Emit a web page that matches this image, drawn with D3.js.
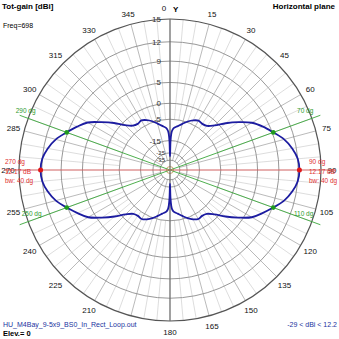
<!DOCTYPE html>
<html>
<head>
<meta charset="utf-8">
<script src="https://cdn.jsdelivr.net/npm/d3@7"></script>
<style>
  html, body { margin: 0; padding: 0; background: #fff; }
  svg { display: block; font-family: "Liberation Sans", Arial, sans-serif; }
</style>
</head>
<body>
<svg id="chart" width="339" height="339"></svg>
<script>
// Azimuth (deg, compass: 0 = Y axis, clockwise) and total gain (dBi), horizontal plane
const azimuth = [
  0, 1, 2, 3, 5, 10, 15, 20, 25, 30, 35, 40, 45, 50, 55, 60, 65, 70, 75, 80, 85,
  90, 95, 100, 105, 110, 115, 120, 125, 130, 135, 140, 145, 150, 155, 160, 165, 170, 175, 177, 178, 179,
  180, 181, 182, 183, 185, 190, 195, 200, 205, 210, 215, 220, 225, 230, 235, 240, 245, 250, 255, 260, 265,
  270, 275, 280, 285, 290, 295, 300, 305, 310, 315, 320, 325, 330, 335, 340, 345, 350, 355, 357, 358, 359
];
const gain = [
  -29, -15.5, -11.2, -9.7, -8.5, -7.4, -6.1, -4.7, -3.6, -2.9, -3.1, -2.7, -1.0, 1.6, 4.1, 6.4, 7.9, 9.17, 10.5, 11.4, 12.0,
  12.17, 12.0, 11.4, 10.5, 9.17, 7.8, 6.4, 4.0, 1.5, -1.1, -2.8, -3.2, -3.0, -3.7, -4.8, -6.2, -7.5, -8.6, -9.8, -11.4, -15.8,
  -29, -15.8, -11.4, -9.8, -8.6, -7.5, -6.2, -4.8, -3.7, -3.0, -3.2, -2.8, -1.1, 1.5, 4.0, 6.4, 7.8, 9.17, 10.5, 11.4, 12.0,
  12.17, 12.0, 11.4, 10.5, 9.17, 7.9, 6.5, 4.1, 1.7, -0.9, -2.6, -3.1, -2.8, -3.5, -4.6, -6.0, -7.3, -8.5, -9.7, -11.2, -15.5
];

// Gain rings (dBi) and their labels
const ringValues = [15, 12, 9, 5, 0, -5, -15, -25, -35];
const ringLabels = ["15", "12", "9", "5", "0", "-5", "-15", "-25", "-35"];

// Compass labels around the outer ring (195 sits under the file-name footer)
const angleTicks = d3.range(0, 360, 15);
const hiddenTicks = [195];

// Maximum-gain and half-power (-3 dB) markers
const maxAz = [90, 270];
const maxGain = 12.17;
const beamwidth = 40;
const halfPowerAz = [70, 110, 250, 290];
const halfPowerGain = 9.17;
const gainMin = -29;

const svg = d3.select("#chart");
const cx = 170, cy = 170, R = 151;
const g = svg.append("g").attr("transform", `translate(${cx},${cy})`);

// Log-type radial scale: outer ring = 15 dBi, exponential compression inward
const K = 0.0545;
const logR = d3.scaleLinear().domain([-35, 15]).range([Math.log(R) - K * 50, Math.log(R)]);
const r = v => Math.exp(logR(v));
const rad = d => d * Math.PI / 180;
const px = (az, rr) => rr * Math.sin(rad(az));
const py = (az, rr) => -rr * Math.cos(rad(az));

// Radial spokes: fine every 5 deg, stronger every 15 deg
const fine = d3.range(0, 360, 5).filter(a => a % 15 !== 0);
g.selectAll("line.fine").data(fine).join("line")
  .attr("x1", a => px(a, r(-5))).attr("y1", a => py(a, r(-5)))
  .attr("x2", a => px(a, R)).attr("y2", a => py(a, R))
  .attr("stroke", "#d4d4d4").attr("stroke-width", 0.8);
const major = angleTicks.filter(a => a % 90 !== 0);
g.selectAll("line.major").data(major).join("line")
  .attr("x1", a => px(a, r(-35))).attr("y1", a => py(a, r(-35)))
  .attr("x2", a => px(a, R)).attr("y2", a => py(a, R))
  .attr("stroke", "#a8a8a8").attr("stroke-width", 0.8);

// Gain rings
g.selectAll("circle.ring").data(ringValues).join("circle")
  .attr("r", d => r(d)).attr("fill", "none")
  .attr("stroke", (d, i) => i === 0 ? "#555" : "#8c8c8c")
  .attr("stroke-width", (d, i) => i === 0 ? 1.2 : 0.9);

// Small centre ring
g.append("circle").attr("r", 3.5).attr("fill", "none").attr("stroke", "#c9a36a").attr("stroke-width", 1);

// Y axis through 0/180
g.append("line").attr("x1", 0).attr("y1", -R).attr("x2", 0).attr("y2", R)
  .attr("stroke", "#6e6e6e").attr("stroke-width", 1.3);

// Ring labels along the Y axis (innermost ones smaller, the rings crowd there)
g.selectAll("text.ring").data(ringValues).join("text")
  .attr("x", (d, i) => i >= 7 ? -5 : -9)
  .attr("y", (d, i) => -r(d) + (i >= 7 ? 2 : 3))
  .attr("text-anchor", "end")
  .attr("font-size", (d, i) => i >= 7 ? 6 : 8).attr("fill", "#333")
  .text((d, i) => ringLabels[i]);

// Compass labels
g.selectAll("text.ang").data(angleTicks.filter(a => !hiddenTicks.includes(a))).join("text")
  .attr("x", a => a === 0 ? -6 : px(a, 162))
  .attr("y", a => py(a, 162) + 3)
  .attr("text-anchor", "middle")
  .attr("font-size", 8).attr("fill", "#111")
  .text(a => a);

// Half-power direction lines
g.selectAll("line.hp").data(halfPowerAz).join("line")
  .attr("x1", 0).attr("y1", 0)
  .attr("x2", a => px(a, 160)).attr("y2", a => py(a, 160))
  .attr("stroke", "#3aa63a").attr("stroke-width", 0.9);
g.selectAll("text.hp").data(halfPowerAz).join("text")
  .attr("x", a => a < 180 ? px(a, 160) - 7 : px(a, 160) + (a === 250 ? 2 : -4))
  .attr("y", a => py(a, 160) - (a > 90 && a < 270 ? 9 : 2.5))
  .attr("text-anchor", a => a < 180 ? "end" : "start")
  .attr("font-size", 6.5).attr("fill", "#2e9a2e")
  .text(a => `${a} dg`);

// Maximum direction line
g.append("line").attr("x1", -166).attr("y1", 0).attr("x2", 166).attr("y2", 0)
  .attr("stroke", "#d06060").attr("stroke-width", 1);

// Pattern
const pts = azimuth.map((a, i) => [rad(a), r(gain[i])]);
const line = d3.lineRadial().curve(d3.curveCatmullRomClosed.alpha(0.5));
g.append("path").attr("d", line(pts))
  .attr("fill", "none").attr("stroke", "#1c1ca0").attr("stroke-width", 1.8);

// Markers
g.selectAll("circle.hp").data(halfPowerAz).join("circle")
  .attr("cx", a => px(a, r(halfPowerGain))).attr("cy", a => py(a, r(halfPowerGain)))
  .attr("r", 2.3).attr("fill", "#1f9a1f");
g.selectAll("circle.mx").data(maxAz).join("circle")
  .attr("cx", a => px(a, r(maxGain))).attr("cy", a => py(a, r(maxGain)))
  .attr("r", 2.5).attr("fill", "#e01818");

// Max-direction annotations
maxAz.forEach(a => {
  const x = a === 90 ? 309 - cx : 5 - cx;
  const lines = [`${a} dg`, `${maxGain} dB`, `bw: ${beamwidth} dg`];
  lines.forEach((t, i) => {
    g.append("text").attr("x", x).attr("y", -6 + i * 9.5)
      .attr("font-size", 6.5).attr("fill", "#e03030").text(t);
  });
});

// Headings and footers
svg.append("text").attr("x", 2).attr("y", 9).attr("font-size", 8).attr("font-weight", "bold")
  .attr("fill", "#000").text("Tot-gain [dBi]");
svg.append("text").attr("x", 3).attr("y", 28).attr("font-size", 7).attr("fill", "#000").text("Freq=698");
svg.append("text").attr("x", 335).attr("y", 9).attr("font-size", 8).attr("font-weight", "bold")
  .attr("text-anchor", "end").attr("fill", "#000").text("Horizontal plane");
svg.append("text").attr("x", 173).attr("y", 12).attr("font-size", 8).attr("font-weight", "bold")
  .attr("fill", "#000").text("Y");
svg.append("text").attr("x", 3).attr("y", 327).attr("font-size", 7).attr("fill", "#2233a0")
  .text("HU_M4Bay_9-5x9_BS0_In_Rect_Loop.out");
svg.append("text").attr("x", 3).attr("y", 336).attr("font-size", 7.5).attr("font-weight", "bold")
  .attr("fill", "#000").text("Elev.= 0");
svg.append("text").attr("x", 337).attr("y", 327).attr("font-size", 7).attr("text-anchor", "end")
  .attr("fill", "#2233a0").text(`${gainMin} < dBi < ${d3.format(".1f")(maxGain)}`);
</script>
</body>
</html>
